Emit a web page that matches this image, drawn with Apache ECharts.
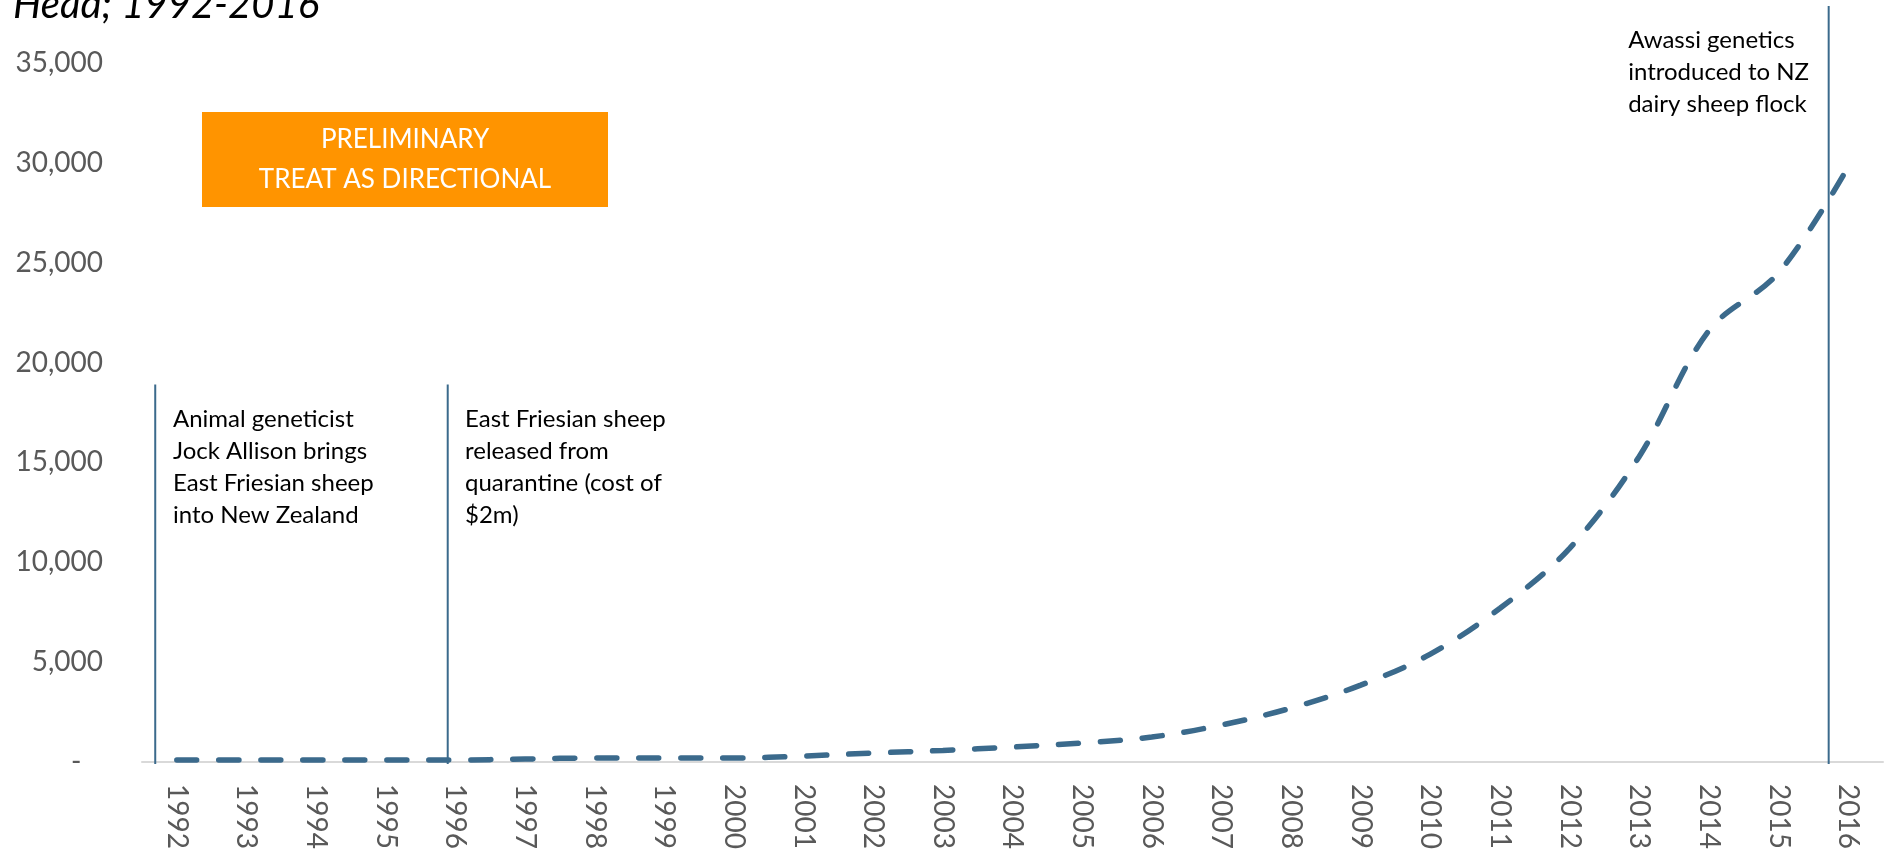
<!DOCTYPE html>
<html>
<head>
<meta charset="utf-8">
<script src="https://cdn.jsdelivr.net/npm/echarts@6/dist/echarts.min.js"></script>
<style>
  html, body { margin: 0; padding: 0; background: #fff; }
  #main { width: 1889px; height: 852px; }
</style>
</head>
<body>
<div id="main"></div>
<script>
// NZ dairy sheep flock, head
const YEARS = ['1992', '1993', '1994', '1995', '1996', '1997', '1998', '1999', '2000', '2001', '2002', '2003',
  '2004', '2005', '2006', '2007', '2008', '2009', '2010', '2011', '2012', '2013', '2014', '2015', '2016'];
const HEAD = [100, 100, 100, 100, 100, 150, 200, 200, 200, 300, 450, 580,
  750, 950, 1250, 1850, 2700, 3850, 5400, 7700, 10700, 15300, 21600, 24500, 29800];
// event markers: position on the year scale and how high the line goes
const EVENT_X = [1991.69, 1995.89, 2015.72];
const EVENT_TOP = [18900, 18900, 37850];
const Y_TICKS = [0, 5000, 10000, 15000, 20000, 25000, 30000, 35000];

const lineColor = '#3b6a8c';
const font = 'Lato, "Open Sans", sans-serif';

var myChart = echarts.init(document.getElementById('main'));

const option = {
  backgroundColor: '#fff',
  animation: false,
  grid: { left: 142, right: 6, top: 63, bottom: 90 },
  xAxis: [
    {
      type: 'category',
      data: YEARS,
      boundaryGap: true,
      axisLine: { lineStyle: { color: '#d9d9d9', width: 2 } },
      axisTick: { show: false },
      axisLabel: {
        rotate: -90,
        margin: 22,
        color: '#595959',
        fontSize: 28,
        fontFamily: font
      }
    },
    {
      type: 'value',
      show: false,
      min: 1991.5,
      max: 2016.5
    }
  ],
  yAxis: {
    type: 'value',
    min: Y_TICKS[0],
    max: Y_TICKS[Y_TICKS.length - 1],
    interval: 5000,
    axisLine: { show: false },
    axisTick: { show: false },
    splitLine: { show: false },
    axisLabel: {
      margin: 39,
      color: '#595959',
      fontSize: 28,
      fontFamily: font,
      formatter: function (v) {
        if (v === 0) return '-   ';
        return v.toLocaleString('en-US');
      }
    }
  },
  series: [
    {
      type: 'line',
      data: HEAD,
      smooth: 0.35,
      symbol: 'none',
      lineStyle: {
        color: lineColor,
        width: 5.5,
        type: [20, 22],
        cap: 'round'
      },
      z: 3
    },
    {
      type: 'custom',
      xAxisIndex: 1,
      clip: false,
      data: EVENT_X.map((x, i) => [x, EVENT_TOP[i]]),
      renderItem: function (params, api) {
        const top = api.coord([api.value(0), api.value(1)]);
        const bottom = api.coord([api.value(0), 0]);
        return {
          type: 'line',
          shape: { x1: top[0], y1: top[1], x2: bottom[0], y2: bottom[1] + 2 },
          style: { stroke: lineColor, lineWidth: 2 }
        };
      },
      z: 4
    }
  ],
  graphic: [
    {
      type: 'text',
      left: 13,
      top: -15,
      style: {
        text: 'Head; 1992-2016',
        fontSize: 40,
        fontStyle: 'italic',
        fontFamily: font,
        fill: '#000'
      }
    },
    {
      type: 'group',
      left: 202,
      top: 112,
      children: [
        {
          type: 'rect',
          shape: { x: 0, y: 0, width: 406, height: 95 },
          style: { fill: '#ff9400' }
        },
        {
          type: 'text',
          x: 203,
          y: 48,
          style: {
            text: 'PRELIMINARY\nTREAT AS DIRECTIONAL',
            fontSize: 26,
            lineHeight: 40,
            fontFamily: font,
            fill: '#fff',
            align: 'center',
            verticalAlign: 'middle'
          }
        }
      ]
    },
    {
      type: 'text',
      left: 173,
      top: 403,
      style: {
        text: 'Animal geneticist\nJock Allison brings\nEast Friesian sheep\ninto New Zealand',
        fontSize: 24,
        lineHeight: 32,
        fontFamily: font,
        fill: '#000'
      }
    },
    {
      type: 'text',
      left: 465,
      top: 403,
      style: {
        text: 'East Friesian sheep\nreleased from\nquarantine (cost of\n$2m)',
        fontSize: 24,
        lineHeight: 32,
        fontFamily: font,
        fill: '#000'
      }
    },
    {
      type: 'text',
      right: 80,
      top: 24,
      style: {
        text: 'Awassi genetics\nintroduced to NZ\ndairy sheep flock',
        fontSize: 24,
        lineHeight: 32,
        fontFamily: font,
        fill: '#000',
        align: 'right'
      }
    }
  ]
};

myChart.setOption(option);
</script>
</body>
</html>
